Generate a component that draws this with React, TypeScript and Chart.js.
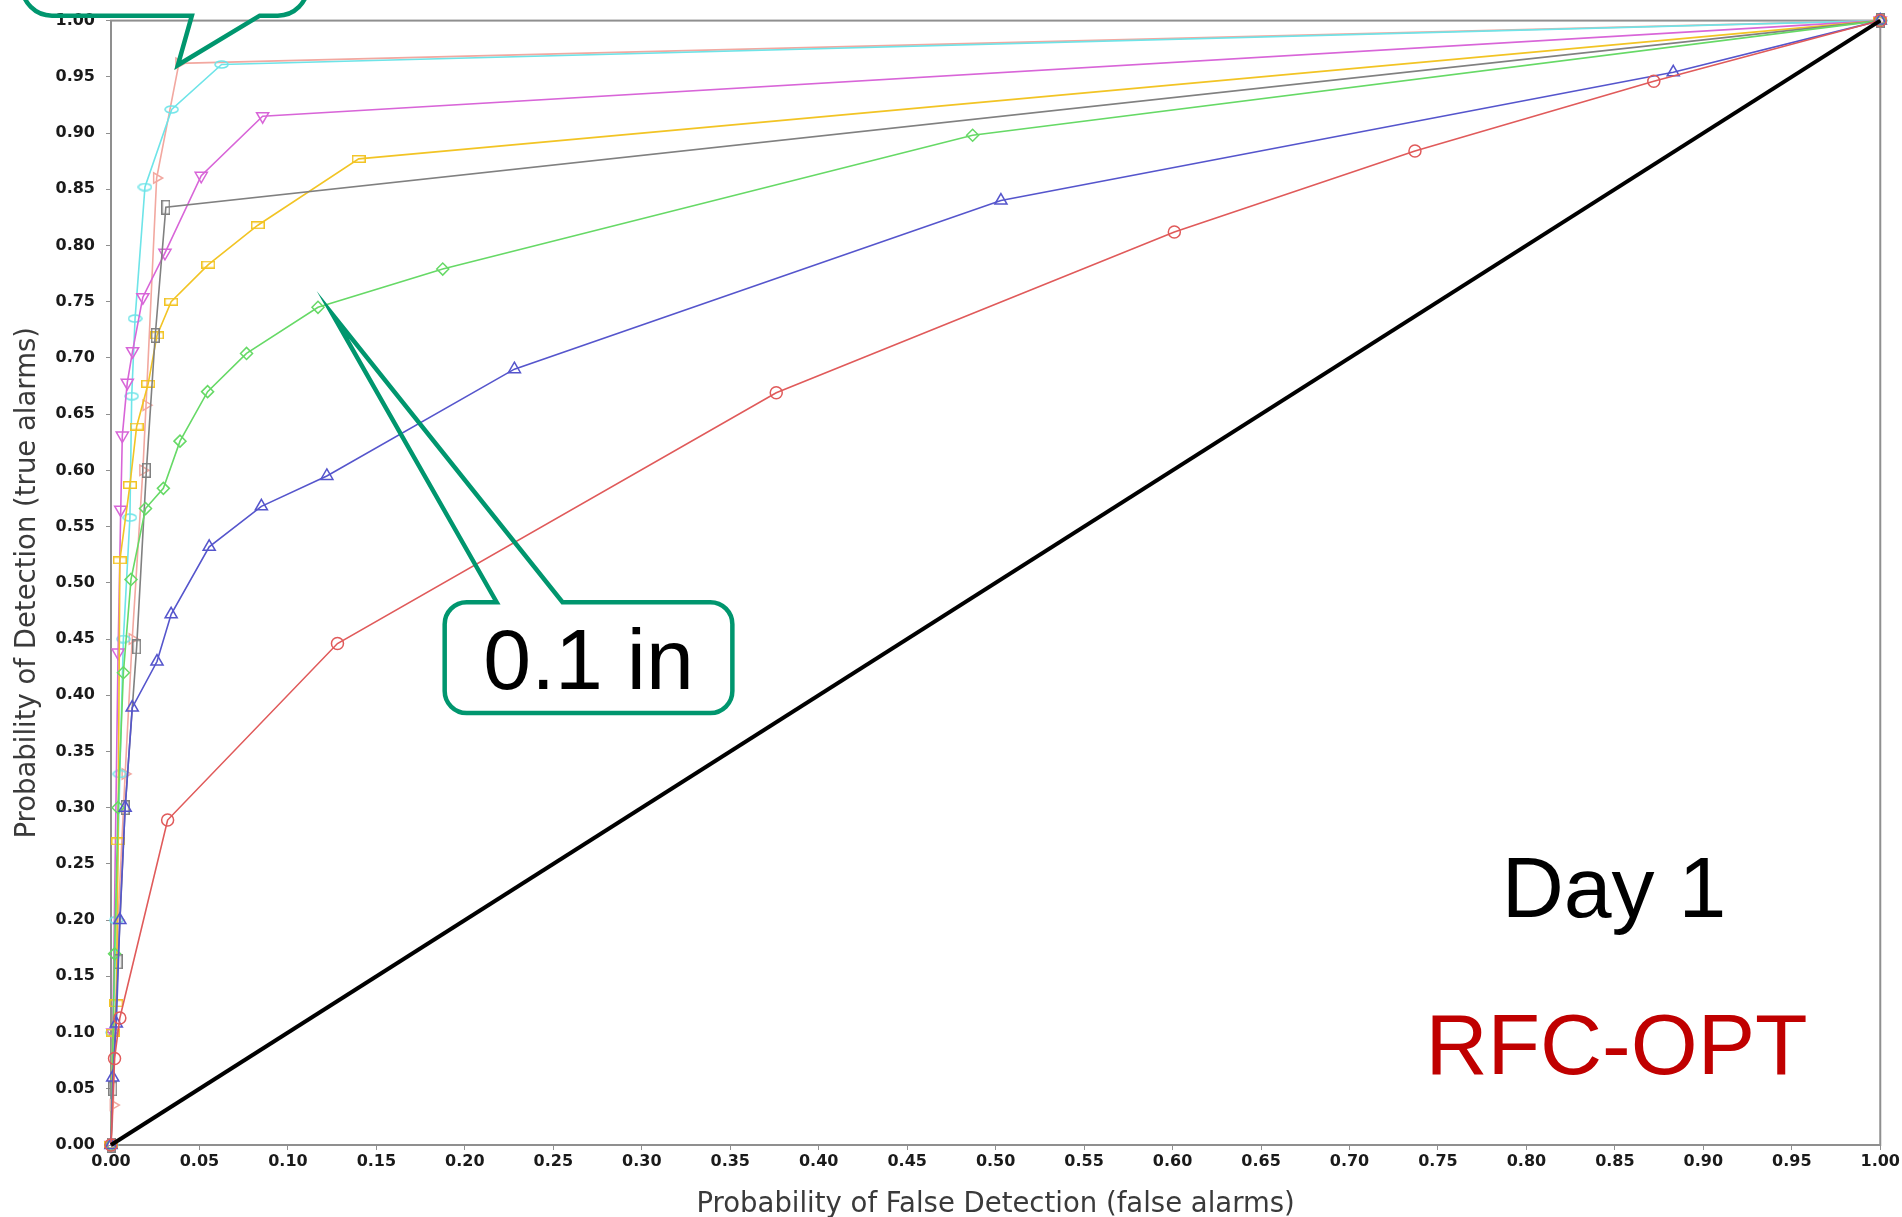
import React, { useEffect, useRef } from "react";
import { Chart, registerables } from "chart.js";

Chart.register(...registerables);

const CANVAS_W = 1902;
const CANVAS_H = 1217;

// ---------- axis ticks ----------
const TICK_VALUES = [0, 0.05, 0.1, 0.15, 0.2, 0.25, 0.3, 0.35, 0.4, 0.45, 0.5, 0.55, 0.6, 0.65, 0.7, 0.75, 0.8, 0.85, 0.9, 0.95, 1];
const TICK_LABELS = ["0.00", "0.05", "0.10", "0.15", "0.20", "0.25", "0.30", "0.35", "0.40", "0.45", "0.50", "0.55", "0.60", "0.65", "0.70", "0.75", "0.80", "0.85", "0.90", "0.95", "1.00"];

const X_TITLE = "Probability of False Detection (false alarms)";
const Y_TITLE = "Probability of Detection (true alarms)";

// ---------- series data: [false alarm rate, detection rate] ----------
const RED_PTS: [number, number][] = [[0, 0], [0.002, 0.077], [0.005, 0.113], [0.032, 0.289], [0.128, 0.446], [0.376, 0.669], [0.601, 0.812], [0.737, 0.884], [0.872, 0.946], [1, 1]];
const BLUE_PTS: [number, number][] = [[0, 0], [0.001, 0.06], [0.003, 0.108], [0.005, 0.2], [0.008, 0.3], [0.012, 0.389], [0.026, 0.43], [0.034, 0.472], [0.0555, 0.532], [0.085, 0.568], [0.122, 0.595], [0.228, 0.69], [0.503, 0.84], [0.883, 0.954], [1, 1]];
const GREEN_PTS: [number, number][] = [[0, 0], [0.002, 0.17], [0.004, 0.3], [0.007, 0.42], [0.0113, 0.503], [0.0195, 0.566], [0.0296, 0.584], [0.039, 0.626], [0.0546, 0.67], [0.0766, 0.704], [0.117, 0.745], [0.1875, 0.779], [0.487, 0.898], [1, 1]];
const GRAY_PTS: [number, number][] = [[0, 0], [0.001, 0.05], [0.004, 0.163], [0.008, 0.3], [0.0145, 0.443], [0.02, 0.6], [0.025, 0.72], [0.031, 0.834], [1, 1]];
const YELLOW_PTS: [number, number][] = [[0, 0], [0.001, 0.1], [0.003, 0.126], [0.004, 0.27], [0.005, 0.52], [0.0107, 0.587], [0.0145, 0.639], [0.021, 0.677], [0.026, 0.72], [0.034, 0.75], [0.055, 0.783], [0.083, 0.818], [0.14, 0.877], [1, 1]];
const MAGENTA_PTS: [number, number][] = [[0, 0], [0.001, 0.1], [0.004, 0.438], [0.0055, 0.565], [0.0064, 0.631], [0.0092, 0.678], [0.0122, 0.706], [0.018, 0.754], [0.0305, 0.7935], [0.051, 0.862], [0.0857, 0.915], [1, 1]];
const CYAN_PTS: [number, number][] = [[0, 0], [0.001, 0.1], [0.003, 0.2], [0.005, 0.33], [0.007, 0.45], [0.0107, 0.558], [0.0117, 0.666], [0.0136, 0.735], [0.0192, 0.852], [0.0343, 0.921], [0.0625, 0.961], [1, 1]];
const PINK_PTS: [number, number][] = [[0, 0], [0.0013, 0.0355], [0.004, 0.2], [0.008, 0.33], [0.012, 0.45], [0.018, 0.6], [0.0198, 0.658], [0.0258, 0.86], [0.0384, 0.962], [1, 1]];
const DIAGONAL_PTS: [number, number][] = [[0, 0], [1, 1]];

// ---------- annotation texts ----------
const CALLOUT_TEXT = "0.1 in";
const DAY_TEXT = "Day 1";
const MODEL_TEXT = "RFC-OPT";

// ---------- styling ----------
type Marker = "circle" | "triUp" | "diamond" | "vRect" | "hRect" | "triDown" | "hEllipse" | "triRight" | "none";

const SERIES = [
  { pts: DIAGONAL_PTS, color: "#000000", marker: "none" as Marker, width: 4 },
  { pts: RED_PTS, color: "#E05A5A", marker: "circle" as Marker, width: 1.6 },
  { pts: BLUE_PTS, color: "#5555CC", marker: "triUp" as Marker, width: 1.6 },
  { pts: GREEN_PTS, color: "#66D966", marker: "diamond" as Marker, width: 1.6 },
  { pts: GRAY_PTS, color: "#808080", marker: "vRect" as Marker, width: 1.6 },
  { pts: YELLOW_PTS, color: "#F2C424", marker: "hRect" as Marker, width: 1.6 },
  { pts: MAGENTA_PTS, color: "#D865D8", marker: "triDown" as Marker, width: 1.6 },
  { pts: CYAN_PTS, color: "#6EE4E8", marker: "hEllipse" as Marker, width: 1.6 },
  { pts: PINK_PTS, color: "#F2A8A0", marker: "triRight" as Marker, width: 1.6 },
];

const CALLOUT_COLOR = "#00966E";

function makeMarkerCanvas(kind: Marker, color: string): HTMLCanvasElement {
  const c = document.createElement("canvas");
  let w = 14, h = 8;
  if (kind === "vRect") { w = 9; h = 15; }
  if (kind === "hEllipse") { w = 15; h = 9; }
  c.width = w;
  c.height = h;
  const g = c.getContext("2d")!;
  g.strokeStyle = color;
  g.lineWidth = 1.5;
  if (kind === "hEllipse") {
    g.beginPath();
    g.ellipse(w / 2, h / 2, w / 2 - 1, h / 2 - 1, 0, 0, Math.PI * 2);
    g.stroke();
  } else {
    g.strokeRect(0.75, 0.75, w - 1.5, h - 1.5);
  }
  return c;
}

function pointStyleFor(kind: Marker, color: string): any {
  switch (kind) {
    case "circle": return { style: "circle", rot: 0, r: 6 };
    case "triUp": return { style: "triangle", rot: 0, r: 7 };
    case "triDown": return { style: "triangle", rot: 180, r: 7 };
    case "triRight": return { style: "triangle", rot: 90, r: 6 };
    case "diamond": return { style: "rectRot", rot: 0, r: 6 };
    case "vRect":
    case "hRect":
    case "hEllipse": return { style: makeMarkerCanvas(kind, color), rot: 0, r: 6 };
    default: return { style: "circle", rot: 0, r: 0 };
  }
}

// callout geometry in data units (box l, r, top, bottom; tail base x1, x2 on one edge; tip)
const CALLOUTS = [
  { l: -0.0503, r: 0.1112, t: 1.07, b: 1.0044, edge: "bottom", x1: 0.0457, x2: 0.0841, tipX: 0.0378, tipY: 0.9605, rad: 30 },
  { l: 0.1886, r: 0.3512, t: 0.4827, b: 0.3842, edge: "top", x1: 0.218, x2: 0.2552, tipX: 0.1254, tipY: 0.7382, rad: 22 },
];
const CALLOUT_TEXT_POS = { x: 0.2699, y: 0.4055 };
const DAY_TEXT_POS = { x: 0.8495, y: 0.2032 };
const MODEL_TEXT_POS = { x: 0.8509, y: 0.063 };

const outlinePlugin = {
  id: "plotOutline",
  beforeDatasetsDraw(chart: any) {
    const { ctx, chartArea } = chart;
    ctx.save();
    ctx.strokeStyle = "#8f8f8f";
    ctx.lineWidth = 2;
    ctx.strokeRect(chartArea.left, chartArea.top, chartArea.right - chartArea.left, chartArea.bottom - chartArea.top);
    ctx.restore();
  },
};

const annotationPlugin = {
  id: "annotations",
  afterDraw(chart: any) {
    const { ctx } = chart;
    const xs = chart.scales.x;
    const ys = chart.scales.y;
    const px = (v: number) => xs.getPixelForValue(v);
    const py = (v: number) => ys.getPixelForValue(v);
    ctx.save();
    ctx.strokeStyle = CALLOUT_COLOR;
    ctx.lineWidth = 4.5;
    ctx.lineJoin = "miter";
    ctx.miterLimit = 20;
    for (const c of CALLOUTS) {
      const l = px(c.l), r = px(c.r), t = py(c.t), b = py(c.b);
      const x1 = px(c.x1), x2 = px(c.x2), tx = px(c.tipX), ty = py(c.tipY);
      const rad = c.rad;
      ctx.beginPath();
      if (c.edge === "bottom") {
        ctx.moveTo(x2, b);
        ctx.lineTo(tx, ty);
        ctx.lineTo(x1, b);
        ctx.lineTo(l + rad, b);
        ctx.arcTo(l, b, l, b - rad, rad);
        ctx.lineTo(l, t + rad);
        ctx.arcTo(l, t, l + rad, t, rad);
        ctx.lineTo(r - rad, t);
        ctx.arcTo(r, t, r, t + rad, rad);
        ctx.lineTo(r, b - rad);
        ctx.arcTo(r, b, r - rad, b, rad);
        ctx.closePath();
      } else {
        ctx.moveTo(x1, t);
        ctx.lineTo(tx, ty);
        ctx.lineTo(x2, t);
        ctx.lineTo(r - rad, t);
        ctx.arcTo(r, t, r, t + rad, rad);
        ctx.lineTo(r, b - rad);
        ctx.arcTo(r, b, r - rad, b, rad);
        ctx.lineTo(l + rad, b);
        ctx.arcTo(l, b, l, b - rad, rad);
        ctx.lineTo(l, t + rad);
        ctx.arcTo(l, t, l + rad, t, rad);
        ctx.closePath();
      }
      ctx.stroke();
    }
    ctx.font = '86px "Liberation Sans", Arial, sans-serif';
    ctx.textAlign = "center";
    ctx.textBaseline = "alphabetic";
    ctx.fillStyle = "#000000";
    ctx.fillText(CALLOUT_TEXT, px(CALLOUT_TEXT_POS.x), py(CALLOUT_TEXT_POS.y));
    ctx.fillText(DAY_TEXT, px(DAY_TEXT_POS.x), py(DAY_TEXT_POS.y));
    ctx.fillStyle = "#C00000";
    ctx.fillText(MODEL_TEXT, px(MODEL_TEXT_POS.x), py(MODEL_TEXT_POS.y));
    ctx.restore();
  },
};

export default function App() {
  const canvasRef = useRef<HTMLCanvasElement | null>(null);

  useEffect(() => {
    if (!canvasRef.current) return;
    const datasets = SERIES.map((s, i) => {
      const ps = pointStyleFor(s.marker, s.color);
      return {
        label: "s" + i,
        data: s.pts.map(([x, y]) => ({ x, y })),
        showLine: true,
        borderColor: s.color,
        backgroundColor: "rgba(0,0,0,0)",
        borderWidth: s.width,
        pointStyle: ps.style,
        pointRotation: ps.rot,
        pointRadius: ps.r,
        pointBorderWidth: 1.5,
        pointBorderColor: s.color,
        pointBackgroundColor: "rgba(0,0,0,0)",
        tension: 0,
        clip: false as any,
      };
    });

    const tickFont = { family: '"DejaVu Sans", sans-serif', size: 16, weight: "bold" as const };
    const titleFont = { family: '"DejaVu Sans", sans-serif', size: 27.5 };

    const chart = new Chart(canvasRef.current, {
      type: "scatter",
      data: { datasets },
      plugins: [outlinePlugin, annotationPlugin],
      options: {
        responsive: false,
        animation: false,
        events: [],
        layout: { padding: { left: 0, top: 18, right: 20, bottom: 0 } },
        plugins: { legend: { display: false }, tooltip: { enabled: false } },
        scales: {
          x: {
            type: "linear",
            min: 0,
            max: 1,
            afterBuildTicks: (s: any) => { s.ticks = TICK_VALUES.map((v) => ({ value: v })); },
            afterFit: (s: any) => { s.height = 72; },
            ticks: {
              autoSkip: false,
              maxRotation: 0,
              padding: 2,
              color: "#1a1a1a",
              font: tickFont,
              callback: (_v: any, i: number) => TICK_LABELS[i],
            },
            grid: { drawOnChartArea: false, drawTicks: true, tickLength: 5, color: "#8f8f8f" },
            border: { display: false },
            title: { display: true, text: X_TITLE, color: "#3a3a3a", font: titleFont, padding: { top: 0, bottom: -4 } },
          },
          y: {
            type: "linear",
            min: 0,
            max: 1,
            afterBuildTicks: (s: any) => { s.ticks = TICK_VALUES.map((v) => ({ value: v })); },
            afterFit: (s: any) => { s.width = 111; },
            ticks: {
              autoSkip: false,
              padding: 11,
              color: "#1a1a1a",
              font: tickFont,
              callback: (_v: any, i: number) => TICK_LABELS[i],
            },
            grid: { drawOnChartArea: false, drawTicks: true, tickLength: 5, color: "#8f8f8f" },
            border: { display: false },
            title: { display: true, text: Y_TITLE, color: "#3a3a3a", font: titleFont, padding: { top: 11, bottom: 0 } },
          },
        },
      } as any,
    });
    return () => chart.destroy();
  }, []);

  return (
    <div style={{ position: "absolute", left: 0, top: 0, width: CANVAS_W, height: CANVAS_H, background: "#ffffff", overflow: "hidden" }}>
      <canvas ref={canvasRef} width={CANVAS_W} height={CANVAS_H} style={{ display: "block", width: CANVAS_W, height: CANVAS_H }} />
    </div>
  );
}
